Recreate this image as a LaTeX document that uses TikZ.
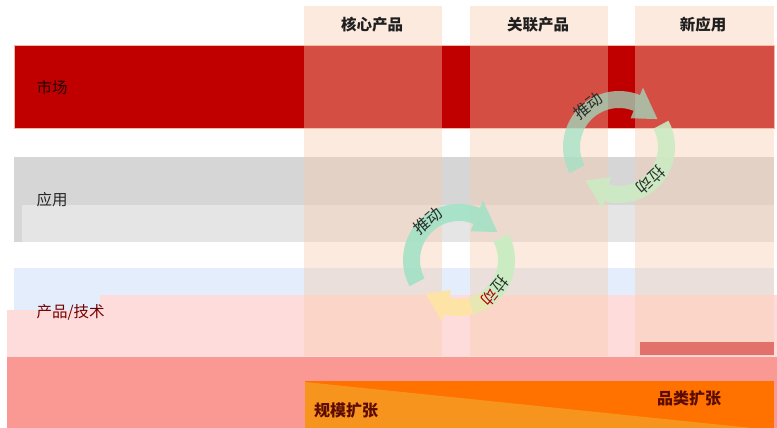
\documentclass[tikz,border=0pt]{standalone}
\usepackage{fontspec}
\setmainfont{Noto Sans CJK SC}
\definecolor{mkred}{HTML}{C00000}
\definecolor{mkline}{HTML}{F4B6A6}
\definecolor{grayA}{HTML}{D6D6D6}
\definecolor{grayB}{HTML}{E5E5E5}
\definecolor{rowblue}{HTML}{E4EDFB}
\definecolor{rowpink}{HTML}{FFDCDC}
\definecolor{salmon}{HTML}{FA9993}
\definecolor{colpeach}{HTML}{F8CBAD}
\definecolor{redbar}{HTML}{E2716C}
\definecolor{orgdark}{HTML}{FF7200}
\definecolor{orglight}{HTML}{F7941D}
\definecolor{txtbrown}{HTML}{5C0B00}
\definecolor{mint}{HTML}{9EE2C5}
\definecolor{lgreen}{HTML}{CBEBC3}
\definecolor{lyellow}{HTML}{FDE4A6}
\definecolor{ringtxt}{HTML}{26302A}
\newcommand{\ringarc}[5]{%
  \begin{scope}[shift={(#1)},yscale=-1]
    \fill[#5] (#2:56) arc[start angle=#2,end angle=#3,radius=56]
      -- (#3:64) -- (#4:47.5) -- (#3:31) -- (#3:39)
      arc[start angle=#3,end angle=#2,radius=39] -- cycle;
  \end{scope}}
\newcommand{\ringband}[4]{%
  \begin{scope}[shift={(#1)},yscale=-1]
    \fill[#4] (#2:56) arc[start angle=#2,end angle=#3,radius=56]
      -- (#3:39) arc[start angle=#3,end angle=#2,radius=39] -- cycle;
  \end{scope}}
\begin{document}
\begin{tikzpicture}[x=1pt,y=-1pt,
  hdr/.style={font=\fontsize{15.5}{18}\selectfont\bfseries,text=black!88},
  rowlbl/.style={font=\fontsize{15.5}{18}\selectfont,anchor=west},
  bigl/.style={font=\fontsize{16}{19}\selectfont\bfseries,text=txtbrown},
  ringl/.style={font=\fontsize{16}{18}\selectfont,text=ringtxt,inner sep=0pt},
  colband/.style={fill=colpeach,fill opacity=0.39}]
\useasboundingbox (0,0) rectangle (777,428);
\fill[white] (0,0) rectangle (777,428);
% rows
\filldraw[fill=mkred,draw=mkline,line width=0.8pt] (14,45) rectangle (774,128);
\fill[grayA] (14,157) rectangle (774,242);
\fill[grayB] (22,205) rectangle (774,242);
\fill[rowblue] (14,268) rectangle (774,310);
\fill[rowpink] (7,310) rectangle (777,357);
\fill[rowpink] (100,295) rectangle (777,310);
\fill[salmon] (7,357) rectangle (777,428);
% columns
\fill[colband] (304,6) rectangle (442,356);
\fill[colband] (470,6) rectangle (608,356);
\fill[colband] (635,6) rectangle (774,356);
% red bar
\fill[redbar] (640,342) rectangle (774,355);
% orange expansion
\fill[orgdark] (305,381) rectangle (774,428);
\fill[orglight] (305,382) -- (752,428) -- (305,428) -- cycle;
% cycle 1
\coordinate (c1) at (619,147);
\ringarc{c1}{208}{68}{36}{mint,fill opacity=0.72}
\ringarc{c1}{28}{-105}{-135}{lgreen,fill opacity=0.9}
% cycle 2
\coordinate (c2) at (459,260);
\ringarc{c2}{208}{68}{36}{mint,fill opacity=0.85}
\ringarc{c2}{-75}{-105}{-135}{lyellow}
\ringband{c2}{-55}{-75}{lyellow!55!lgreen}
\ringband{c2}{28}{-55}{lgreen}
% ring labels
\node[ringl,rotate=38] (p1) at (588,106) {推动};
\node[ringl,rotate=-137] (l1) at (651,180) {拉动};
\node[ringl,rotate=40] (p2) at (428,221) {推动};
\node[ringl,rotate=-130] (l2) at (495,291) {拉\textcolor{red!70!black}{动}};
% headers
\node[hdr] (h1) at (372,25) {核心产品};
\node[hdr] (h2) at (538,25) {关联产品};
\node[hdr] (h3) at (703,25) {新应用};
% row labels
\node[rowlbl,text=black!85!red] (r1) at (33,88) {市场};
\node[rowlbl,text=black!85] (r2) at (33,200) {应用};
\node[rowlbl,text=red!45!black] (r3) at (33,312) {产品/技术};
% expansion labels
\node[bigl] (s1) at (346,410) {规模扩张};
\node[bigl] (s2) at (689,398) {品类扩张};
\end{tikzpicture}
\end{document}
